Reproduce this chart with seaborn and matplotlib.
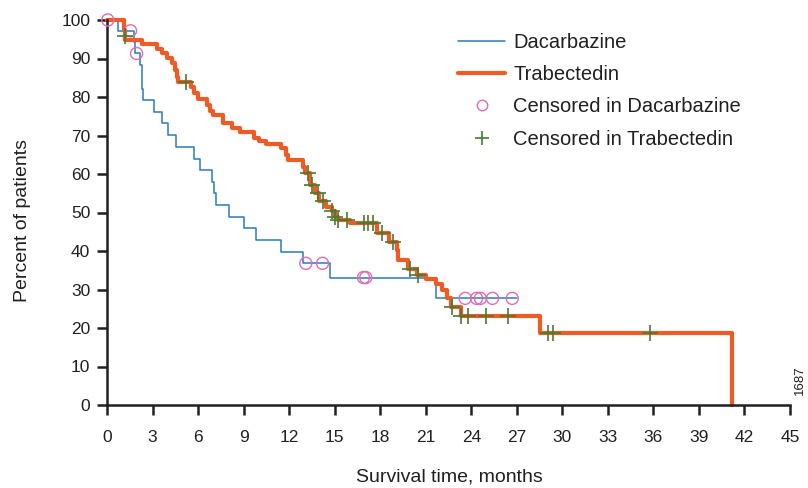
import seaborn as sns
import matplotlib.pyplot as plt
from matplotlib.lines import Line2D
import pandas as pd

# Kaplan-Meier steps (months, percent surviving after the step)
dac_time = [0, 0.7, 1.75, 1.85, 2.2, 2.3, 2.33, 2.36, 3.1, 3.6, 4.0, 4.55, 5.75, 6.15,
            6.9, 7.05, 7.2, 8.05, 9.0, 9.8, 11.45, 12.9, 14.7, 21.7, 27.0]
dac_surv = [100, 97.2, 94.2, 91.3, 88.3, 85.3, 82.2, 79.2, 76.2, 73.2, 70.1, 67.1, 64.0, 61.0,
            58.0, 55.0, 51.9, 48.9, 45.9, 42.9, 39.8, 36.8, 33.1, 27.7, 27.7]

tra_time = [0, 1.1, 1.2, 2.3, 3.3, 3.6, 3.95, 4.3, 4.45, 4.6, 4.7, 5.55, 5.75, 6.0, 6.6, 6.8,
            7.0, 7.65, 8.25, 8.75, 9.7, 10.0, 10.5, 11.45, 11.8, 11.9, 12.9, 13.05, 13.4, 13.7,
            14.0, 14.4, 14.8, 15.05, 15.2, 16.0, 17.8, 18.6, 19.1, 19.2, 19.85, 20.4, 21.05,
            21.7, 22.05, 22.4, 22.65, 23.35, 28.5, 41.2]
tra_surv = [100, 97.4, 94.8, 93.7, 92.4, 91.3, 90.2, 88.9, 87.0, 85.3, 84.0, 82.6, 81.0, 79.6,
            77.8, 76.4, 75.3, 73.2, 71.9, 71.0, 69.3, 68.6, 67.7, 66.7, 64.9, 63.6, 61.9, 60.3,
            57.1, 55.0, 52.9, 51.5, 50.5, 48.9, 48.0, 47.2, 44.6, 42.4, 40.3, 37.7, 35.3, 33.8,
            32.6, 31.3, 29.9, 27.7, 25.5, 23.1, 18.6, 0]

# censored observations
dac_cens_time = [0.05, 1.55, 1.95, 13.1, 14.2, 16.9, 17.05, 23.6, 24.35, 24.6, 25.4, 26.7]
dac_cens_surv = [100, 97.2, 91.3, 36.8, 36.8, 33.1, 33.1, 27.7, 27.7, 27.7, 27.7, 27.7]

tra_cens_time = [1.2, 5.2, 13.25, 13.5, 13.9, 14.25, 14.8, 15.0, 15.2, 15.8, 16.9, 17.2, 17.5,
                 18.1, 18.85, 19.95, 20.5, 22.7, 23.35, 23.8, 25.0, 26.45, 29.05, 29.4, 35.8]
tra_cens_surv = [95.8, 84.0, 60.3, 57.1, 55.0, 52.9, 50.5, 48.9, 48.0, 48.0, 47.2, 47.2, 47.2,
                 44.6, 42.4, 35.3, 33.8, 25.5, 23.1, 23.1, 23.1, 23.1, 18.6, 18.6, 18.6]

x_ticks = list(range(0, 46, 3))
y_ticks = list(range(0, 101, 10))

blue = "#2a7abf"
orange = "#f05a24"
pink = "#e06cb4"
green = "#4b7a32"

sns.set_style("ticks")
plt.rcParams["font.family"] = ["Liberation Sans", "DejaVu Sans"]

fig = plt.figure(figsize=(8.08, 4.88), dpi=100)
ax = fig.add_axes([107 / 808, 83 / 488, 683 / 808, 385 / 488])

dac = pd.DataFrame({"t": dac_time, "s": dac_surv})
tra = pd.DataFrame({"t": tra_time, "s": tra_surv})
sns.lineplot(data=dac, x="t", y="s", drawstyle="steps-post", estimator=None, sort=False,
             color=blue, linewidth=1.1, ax=ax, clip_on=False)
sns.lineplot(data=tra, x="t", y="s", drawstyle="steps-post", estimator=None, sort=False,
             color=orange, linewidth=3.0, ax=ax, clip_on=False)

sns.scatterplot(x=dac_cens_time, y=dac_cens_surv, marker="o", s=75, facecolor="none",
                edgecolor=pink, linewidth=1.0, ax=ax, clip_on=False, zorder=4)
sns.scatterplot(x=tra_cens_time, y=tra_cens_surv, marker="+", s=120, color=green,
                linewidth=1.2, ax=ax, clip_on=False, zorder=5)

ax.set_xlim(0, 45)
ax.set_ylim(0, 100)
ax.set_xticks(x_ticks)
ax.set_yticks(y_ticks)
ax.tick_params(axis="both", length=7, width=1.8, color="#231f20", labelsize=12.5,
               labelcolor="#231f20")
ax.tick_params(axis="x", pad=11)
ax.tick_params(axis="y", pad=5)
for side in ["top", "right"]:
    ax.spines[side].set_visible(False)
for side in ["left", "bottom"]:
    ax.spines[side].set_linewidth(1.8)
    ax.spines[side].set_color("#231f20")

ax.set_xlabel("Survival time, months", fontsize=14, color="#231f20")
ax.set_ylabel("Percent of patients", fontsize=14, color="#231f20")
ax.xaxis.set_label_coords(0.502, -0.165)
ax.yaxis.set_label_coords(-0.112, 0.48)

handles = [
    Line2D([], [], color=blue, linewidth=1.1),
    Line2D([], [], color=orange, linewidth=3.0),
    Line2D([], [], linestyle="none", marker="o", markersize=7.5, markerfacecolor="none",
           markeredgecolor=pink, markeredgewidth=1.0),
    Line2D([], [], linestyle="none", marker="+", markersize=10, color=green,
           markeredgewidth=1.2),
]
labels = ["Dacarbazine", "Trabectedin", "Censored in Dacarbazine", "Censored in Trabectedin"]
ax.legend(handles, labels, loc="upper left", bbox_to_anchor=(0.514, 0.967), frameon=False,
          fontsize=14.5, handlelength=2.35, handletextpad=0.4, labelspacing=0.66,
          borderpad=0, borderaxespad=0, labelcolor="#231f20")

fig.text(0.99, 0.22, "1687", rotation=90, fontsize=9.5, color="#231f20", ha="center",
         va="center")

fig.savefig("out.png", dpi=100)
